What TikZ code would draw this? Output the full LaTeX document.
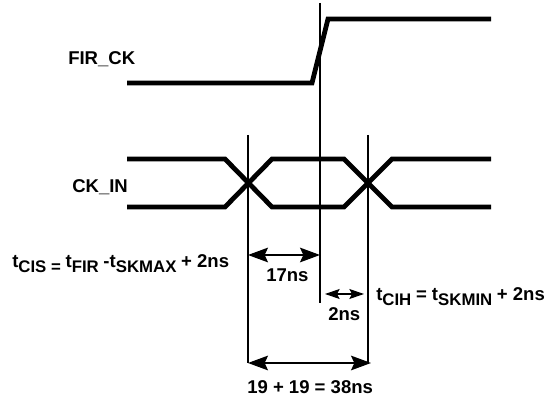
\documentclass[tikz,border=0pt]{standalone}
\usepackage{fontspec}
\setmainfont{Liberation Sans}
\usetikzlibrary{positioning, arrows.meta}
\newcommand{\lowsub}[1]{\raisebox{-3.6pt}{\fontsize{12.6}{13}\selectfont #1}}

\begin{document}
\begin{tikzpicture}[
  x=0.75pt, y=-0.75pt,
  wave/.style={line width=3.6pt, line join=miter},
  guide/.style={line width=0.8pt},
  bigtip/.tip={Stealth[length=15pt,width=11pt,inset=2.5pt]},
  smalltip/.tip={Stealth[length=11pt,width=7.5pt,inset=2pt]},
  span/.style={bigtip-bigtip, line width=0.9pt},
  spansmall/.style={smalltip-smalltip, line width=0.9pt},
  lab/.style={inner sep=0pt, font=\fontsize{13.9}{15}\selectfont\bfseries, anchor=base west}
]
\useasboundingbox (0,0) rectangle (554,398);

% Guide lines
\coordinate (clocktop) at (320,3);
\coordinate (clockbot) at (320,303);
\coordinate (setuptop) at (248,135);
\coordinate (setupbot) at (248,363);
\coordinate (holdtop) at (368,135);
\coordinate (holdbot) at (368,363);
\draw[guide] (clocktop) -- (clockbot);
\draw[guide] (setuptop) -- (setupbot);
\draw[guide] (holdtop) -- (holdbot);

% Waveforms
\draw[wave] (127,83) -- (312,83) -- (328,19) -- (491,19);
\draw[wave] (127,159) -- (225,159) -- (272,207) -- (344,207) -- (392,159) -- (491,159);
\draw[wave] (127,207) -- (225,207) -- (272,159) -- (344,159) -- (392,207) -- (491,207);

% Spans
\coordinate (a17l) at (248,255);
\coordinate (a17r) at (320,255);
\coordinate (a2l) at (325,294);
\coordinate (a2r) at (364,294);
\coordinate (a38l) at (248,363);
\coordinate (a38r) at (371,363);
\draw[span] (a17l) -- (a17r);
\draw[spansmall] (a2l) -- (a2r);
\draw[span] (a38l) -- (a38r);

% Labels
\node[lab] (firck) at (68,65) {FIR\_CK};
\node[lab] (ckin) at (72,193) {CK\_IN};
\node[lab] (tcis) at (12,268) {t\lowsub{CIS = }t\lowsub{FIR }-t\lowsub{SKMAX }+ 2ns};
\node[lab] (ns17) at (266,282) {17ns};
\node[lab] (ns2) at (328,321) {2ns};
\node[lab] (tcih) at (376,301) {t\lowsub{CIH }= t\lowsub{SKMIN }+ 2ns};
\node[lab] (ns38) at (247,394) {19 + 19 = 38ns};

\end{tikzpicture}
\end{document}
